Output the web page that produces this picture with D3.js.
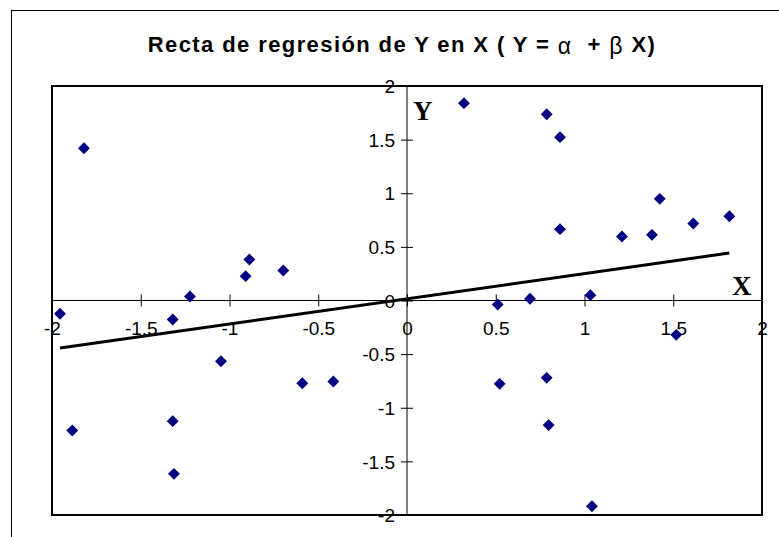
<!DOCTYPE html>
<html>
<head>
<meta charset="utf-8">
<script src="https://cdn.jsdelivr.net/npm/d3@7"></script>
<style>
  html, body { margin: 0; padding: 0; background: #fff; }
  svg { display: block; }
</style>
</head>
<body>
<svg id="chart" width="779" height="537"></svg>
<script>
// ---- data ----
const xValues = [-1.82, -0.888, -0.909, -0.697, -1.955, -1.32, -1.223, -1.048, -0.59, -0.415,
                 -1.886, -1.32, -1.313, 0.321, 0.787, 0.862, 0.862, 1.211, 1.38, 1.424,
                 1.613, 1.816, 0.511, 0.693, 1.033, 1.517, 0.522, 0.787, 0.798, 1.042];
const yValues = [1.42, 0.382, 0.227, 0.28, -0.124, -0.177, 0.037, -0.566, -0.771, -0.755,
                 -1.212, -1.125, -1.616, 1.84, 1.737, 1.523, 0.665, 0.597, 0.612, 0.948,
                 0.718, 0.786, -0.037, 0.016, 0.05, -0.32, -0.777, -0.721, -1.162, -1.918];
const alpha = 0.016;   // intercept of the regression line
const beta = 0.235;    // slope of the regression line
const xTicks = [-2, -1.5, -1, -0.5, 0, 0.5, 1, 1.5, 2];
const yTicks = [-2, -1.5, -1, -0.5, 0, 0.5, 1, 1.5, 2];
const titleParts = ["Recta de regresión de Y en X ( Y = ", "α", "  + ", "β", " X)"];

// ---- layout ----
const svg = d3.select("#chart");
const plot = { left: 52, right: 762, top: 86, bottom: 515 };

const x = d3.scaleLinear().domain([-2, 2]).range([plot.left, plot.right]);
const y = d3.scaleLinear().domain([-2, 2]).range([plot.bottom, plot.top]);
const fmt = d => String(d);   // plain hyphen minus, as in the reference

// outer chart area border (extends beyond the picture right/bottom)
svg.append("rect")
  .attr("x", 11.5).attr("y", 10.5)
  .attr("width", 800).attr("height", 600)
  .attr("fill", "#fff").attr("stroke", "#000").attr("stroke-width", 1);

// title
const title = svg.append("text")
  .attr("x", 402).attr("y", 52)
  .attr("text-anchor", "middle")
  .attr("font-family", "'Liberation Sans', Arial, sans-serif")
  .attr("font-size", 22)
  .attr("font-weight", "bold")
  .attr("letter-spacing", 1.4)
  .attr("fill", "#000")
  .attr("xml:space", "preserve")
  .style("white-space", "pre");
titleParts.forEach((t, i) => {
  const greek = (i === 1 || i === 3);
  title.append("tspan")
    .attr("font-weight", greek ? "normal" : "bold")
    .attr("font-size", greek ? 23 : 22)
    .attr("dy", greek ? 2 : (i === 0 ? 0 : -2))
    .text(t);
});

// plot border
svg.append("rect")
  .attr("x", plot.left).attr("y", plot.top)
  .attr("width", plot.right - plot.left).attr("height", plot.bottom - plot.top)
  .attr("fill", "none").attr("stroke", "#000").attr("stroke-width", 2);

// axes crossing at origin
const axisFont = "'Liberation Sans', Arial, sans-serif";
const xAxis = d3.axisBottom(x).tickValues(xTicks).tickSize(6).tickFormat(fmt);
const gx = svg.append("g").attr("transform", `translate(0,${y(0)})`).call(xAxis);
gx.select(".domain").attr("stroke", "#000").attr("stroke-width", 1);
gx.selectAll(".tick line").attr("y1", -6).attr("y2", 6).attr("stroke", "#000");
gx.selectAll(".tick text")
  .attr("y", 21).attr("dy", "0.71em")
  .attr("font-family", axisFont).attr("font-size", 19).attr("fill", "#000");
gx.selectAll(".tick").filter(d => d === -2 || d === 2).select("line").remove();

const yAxis = d3.axisLeft(y).tickValues(yTicks).tickSize(6).tickFormat(fmt);
const gy = svg.append("g").attr("transform", `translate(${x(0)},0)`).call(yAxis);
gy.select(".domain").attr("stroke", "#000").attr("stroke-width", 1);
gy.selectAll(".tick line").attr("x1", -6).attr("x2", 6).attr("stroke", "#000");
gy.selectAll(".tick text")
  .attr("x", -12).attr("dy", "0.35em")
  .attr("font-family", axisFont).attr("font-size", 19).attr("fill", "#000");
gy.selectAll(".tick").filter(d => d === -2 || d === 2).select("line").remove();
gx.select(".domain").attr("d", `M${plot.left},0H${plot.right}`);
gy.select(".domain").attr("d", `M0,${plot.top}V${plot.bottom}`);

// axis names
svg.append("text").attr("x", x(0) + 6).attr("y", y(1.68))
  .attr("font-family", "'Liberation Serif', 'Times New Roman', serif")
  .attr("font-weight", "bold").attr("font-size", 27).attr("fill", "#000").text("Y");
svg.append("text").attr("x", x(2) - 30).attr("y", y(0.05))
  .attr("font-family", "'Liberation Serif', 'Times New Roman', serif")
  .attr("font-weight", "bold").attr("font-size", 27).attr("fill", "#000").text("X");

// regression line over the data range
const xExt = d3.extent(xValues);
svg.append("line")
  .attr("x1", x(xExt[0])).attr("y1", y(alpha + beta * xExt[0]))
  .attr("x2", x(xExt[1])).attr("y2", y(alpha + beta * xExt[1]))
  .attr("stroke", "#000").attr("stroke-width", 3);

// points
const points = xValues.map((v, i) => ({ x: v, y: yValues[i] }));
const diamond = d3.symbol().type(d3.symbolDiamond2).size(90);
svg.append("g").selectAll("path").data(points).join("path")
  .attr("d", diamond)
  .attr("transform", d => `translate(${x(d.x)},${y(d.y)})`)
  .attr("fill", "#000080");
</script>
</body>
</html>
